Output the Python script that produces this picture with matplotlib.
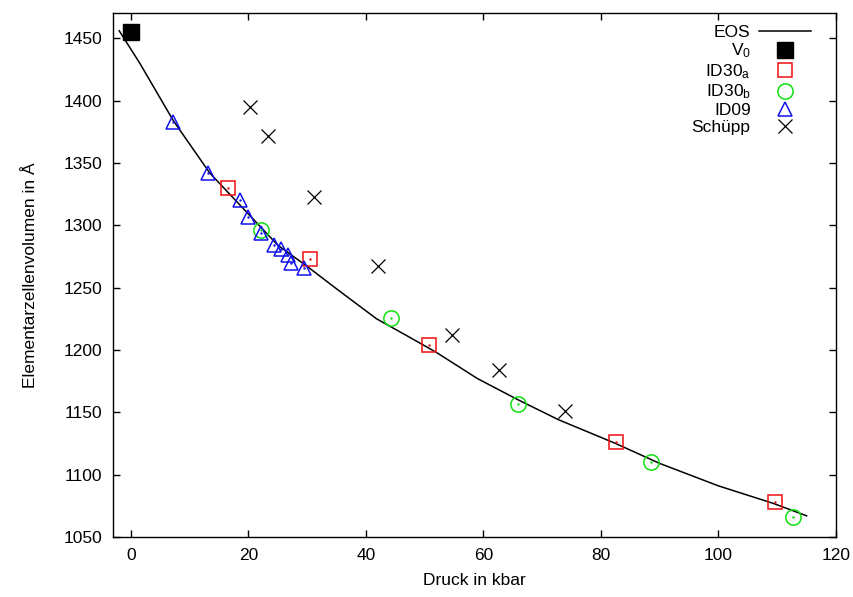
import matplotlib
matplotlib.use('Agg')
import matplotlib.pyplot as plt

plt.rcParams['font.family'] = ['Liberation Sans', 'DejaVu Sans']
plt.rcParams['mathtext.default'] = 'regular'

# EOS fit curve
eos_p = [-2.0, 1.5, 7.2, 13.4, 20.0, 25.0, 30.0, 35.0, 41.8, 47.5, 52.0,
         59.0, 65.9, 72.8, 82.5, 90.0, 100.0, 109.3, 115.0]
eos_v = [1456, 1430, 1384, 1342, 1309, 1284, 1267, 1249, 1225, 1210, 1198,
         1177, 1160, 1144, 1125, 1109, 1091, 1077, 1067]

v0_p = [0.0]
v0_v = [1455]

id30a_p = [16.5, 30.4, 50.8, 82.5, 109.7]
id30a_v = [1330, 1273, 1204, 1126, 1078]

id30b_p = [22.1, 44.3, 65.9, 88.6, 112.6]
id30b_v = [1296, 1226, 1157, 1110, 1066]

id09_p = [7.1, 13.1, 18.5, 20.0, 22.2, 24.4, 25.5, 26.7, 27.2, 29.4]
id09_v = [1383, 1342, 1320, 1307, 1294, 1284, 1281, 1276, 1270, 1266]

schuepp_p = [20.2, 23.3, 31.1, 42.1, 54.7, 62.6, 73.9]
schuepp_v = [1395, 1372, 1323, 1267, 1212, 1184, 1151]

red = '#f01010'
green = '#10e010'
blue = '#1010f0'
fs = 12.5

fig = plt.figure(figsize=(8.54, 5.97), dpi=100)
ax = fig.add_axes([0.1327, 0.1005, 0.8462, 0.8772])

ax.plot(eos_p, eos_v, color='black', lw=1.1, label='EOS')
ax.plot(v0_p, v0_v, ls='none', marker='s', ms=11.5, color='black', label='$V_0$')
ax.plot(id30a_p, id30a_v, ls='none', marker='s', ms=10.5, mfc='none', mec=red,
        mew=1.1, label='ID30$_a$')
ax.plot(id30b_p, id30b_v, ls='none', marker='o', ms=11, mfc='none', mec=green,
        mew=1.1, label='ID30$_b$')
ax.plot(id09_p, id09_v, ls='none', marker='^', ms=10.5, mfc='none', mec=blue,
        mew=1.1, label='ID09')
ax.plot(schuepp_p, schuepp_v, ls='none', marker='x', ms=10.5, color='black',
        mew=0.9, label='Schüpp')

# small centre dots like gnuplot's point style
ax.plot(id30a_p, id30a_v, ls='none', marker='.', ms=1.5, color=red)
ax.plot(id30b_p, id30b_v, ls='none', marker='.', ms=1.5, color=green)
ax.plot(id09_p, id09_v, ls='none', marker='.', ms=1.5, color=blue)

ax.set_xlim(-3, 120)
ax.set_ylim(1050, 1470)
ax.set_xticks([0, 20, 40, 60, 80, 100, 120])
ax.set_yticks([1050, 1100, 1150, 1200, 1250, 1300, 1350, 1400, 1450])
ax.tick_params(direction='in', top=True, right=True, length=5, width=1,
               labelsize=fs, pad=8)
for s in ax.spines.values():
    s.set_linewidth(1)

ax.set_xlabel('Druck in kbar', fontsize=fs, labelpad=7)
ax.set_ylabel('Elementarzellenvolumen in Å', fontsize=fs, labelpad=18)

ax.legend(loc='upper right', markerfirst=False, frameon=False, fontsize=fs,
          handlelength=3.0, handletextpad=0.5, labelspacing=0.1,
          borderaxespad=0.0, borderpad=0.0, bbox_to_anchor=(0.966, 0.978))

fig.savefig('out.png', dpi=100)
